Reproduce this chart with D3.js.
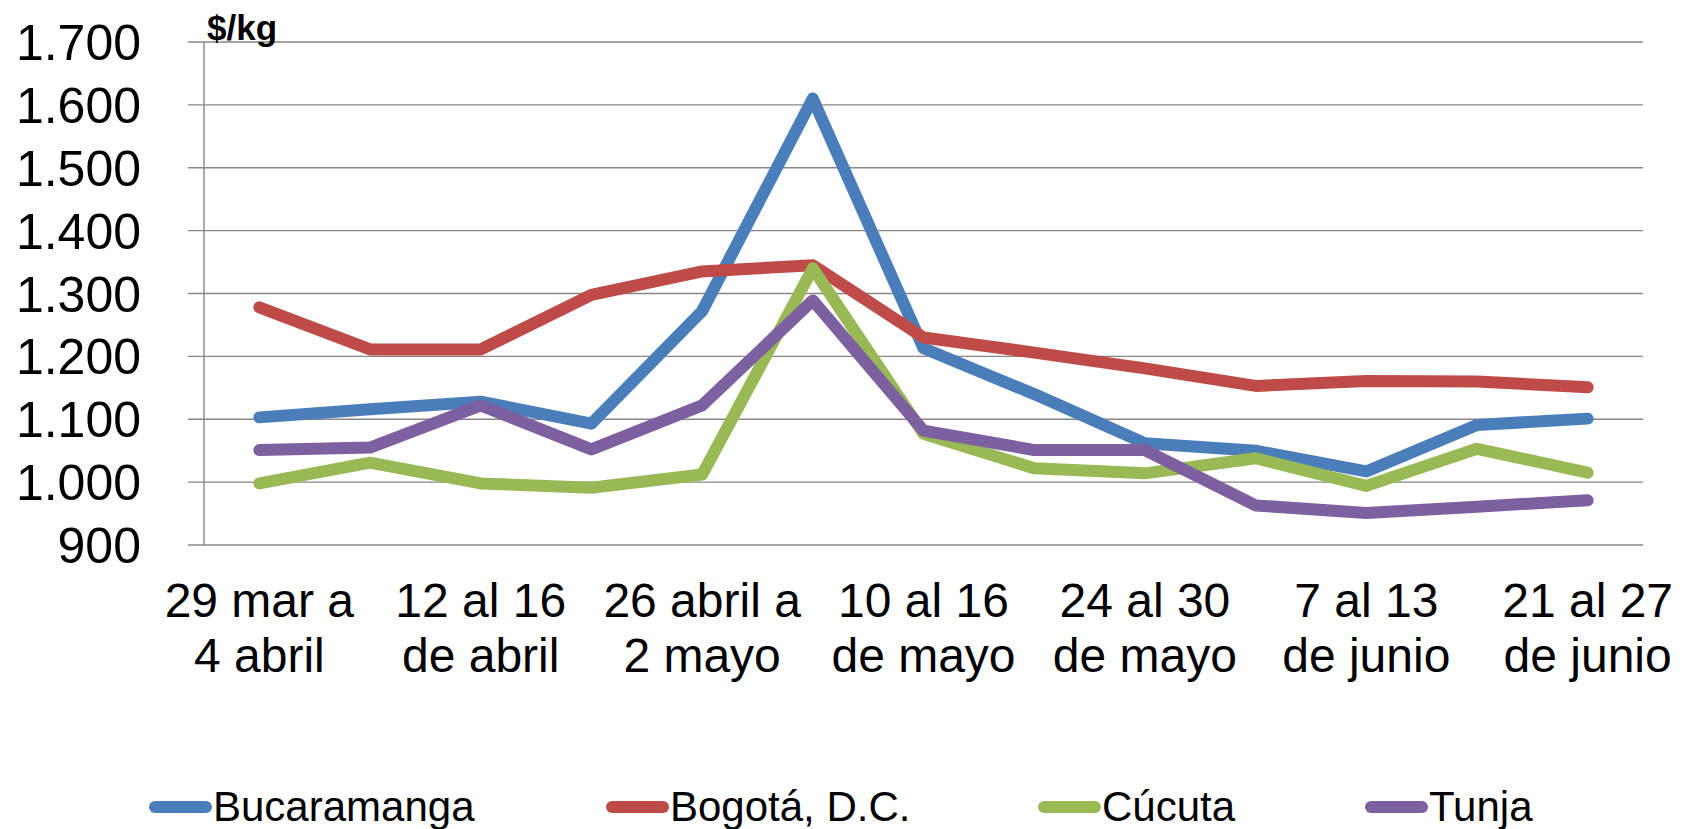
<!DOCTYPE html>
<html>
<head>
<meta charset="utf-8">
<script src="https://cdn.jsdelivr.net/npm/d3@7"></script>
<style>
  body { margin: 0; background: #fff; }
  svg text { font-family: "Liberation Sans", Arial, sans-serif; fill: #000; }
</style>
</head>
<body>
<div id="chart"></div>
<script>
// Weekly periods (labels shown every other week)
const weeks = [
    ["29 mar a", "4 abril"], ["5 al 11", "de abril"], ["12 al 16", "de abril"],
    ["19 al 25", "de abril"], ["26 abril a", "2 mayo"], ["3 al 9", "de mayo"],
    ["10 al 16", "de mayo"], ["17 al 23", "de mayo"], ["24 al 30", "de mayo"],
    ["31 mayo a", "6 junio"], ["7 al 13", "de junio"], ["14 al 20", "de junio"],
    ["21 al 27", "de junio"]
];
const cities = ["Bucaramanga", "Bogotá, D.C.", "Cúcuta", "Tunja"];
const bucaramanga = [1103, 1116, 1128, 1093, 1272, 1610, 1213, 1140, 1062, 1050, 1017, 1091, 1101];
const bogota = [1278, 1211, 1211, 1298, 1335, 1345, 1230, 1206, 1181, 1153, 1161, 1160, 1151];
const cucuta = [998, 1031, 998, 991, 1012, 1340, 1077, 1022, 1014, 1038, 994, 1053, 1015];
const tunja = [1051, 1055, 1122, 1052, 1122, 1289, 1082, 1051, 1051, 963, 951, 961, 971];
const yTicks = [900, 1000, 1100, 1200, 1300, 1400, 1500, 1600, 1700];
const colors = ["#4A7EBB", "#BE4B48", "#98B954", "#7D60A0"];

const series = [bucaramanga, bogota, cucuta, tunja];

const width = 1690, height = 829;
const margin = { top: 42, right: 47, bottom: 284, left: 204 };

const svg = d3.select("#chart")
    .append("svg")
    .attr("width", width)
    .attr("height", height);

const x = d3.scaleBand()
    .domain(d3.range(weeks.length))
    .range([margin.left, width - margin.right]);

const y = d3.scaleLinear()
    .domain([900, 1700])
    .range([height - margin.bottom, margin.top]);

const cx = i => x(i) + x.bandwidth() / 2;

// Horizontal gridlines and y tick marks
svg.append("g")
    .selectAll("line")
    .data(yTicks)
    .join("line")
    .attr("x1", margin.left - 16)
    .attr("x2", width - margin.right)
    .attr("y1", d => y(d))
    .attr("y2", d => y(d))
    .attr("stroke", "#878787")
    .attr("stroke-width", 1.4);

// Vertical axis line
svg.append("line")
    .attr("x1", margin.left)
    .attr("x2", margin.left)
    .attr("y1", y(1700))
    .attr("y2", y(900))
    .attr("stroke", "#878787")
    .attr("stroke-width", 1.4);

// Y tick labels (thousands with a dot)
const fmt = d3.formatLocale({ decimal: ",", thousands: ".", grouping: [3], currency: ["$", ""] }).format(",d");
svg.append("g")
    .selectAll("text")
    .data(yTicks)
    .join("text")
    .attr("x", 141)
    .attr("y", d => y(d) + 18)
    .attr("text-anchor", "end")
    .attr("font-size", 50)
    .text(d => fmt(d));

// Unit label
svg.append("text")
    .attr("x", 207)
    .attr("y", 40)
    .attr("font-size", 35)
    .attr("font-weight", "bold")
    .text("$/kg");

// X labels, every other week
const shown = d3.range(0, weeks.length, 2);
const xl = svg.append("g")
    .selectAll("text")
    .data(shown)
    .join("text")
    .attr("text-anchor", "middle")
    .attr("font-size", 48);
xl.append("tspan")
    .attr("x", d => cx(d))
    .attr("y", 617)
    .text(d => weeks[d][0]);
xl.append("tspan")
    .attr("x", d => cx(d))
    .attr("y", 672)
    .text(d => weeks[d][1]);

// Lines
const line = d3.line()
    .x((d, i) => cx(i))
    .y(d => y(d));

svg.append("g")
    .selectAll("path")
    .data(series)
    .join("path")
    .attr("d", d => line(d))
    .attr("fill", "none")
    .attr("stroke", (d, i) => colors[i])
    .attr("stroke-width", 12)
    .attr("stroke-linecap", "round")
    .attr("stroke-linejoin", "round");

// Legend
const legendX = [149, 606, 1038, 1365];
const legend = svg.append("g")
    .selectAll("g")
    .data(cities)
    .join("g")
    .attr("transform", (d, i) => `translate(${legendX[i]},807)`);
legend.append("line")
    .attr("x1", 6)
    .attr("x2", 57)
    .attr("stroke", (d, i) => colors[i])
    .attr("stroke-width", 12)
    .attr("stroke-linecap", "round");
legend.append("text")
    .attr("x", 64)
    .attr("y", 14)
    .attr("font-size", 42)
    .text(d => d);
</script>
</body>
</html>
